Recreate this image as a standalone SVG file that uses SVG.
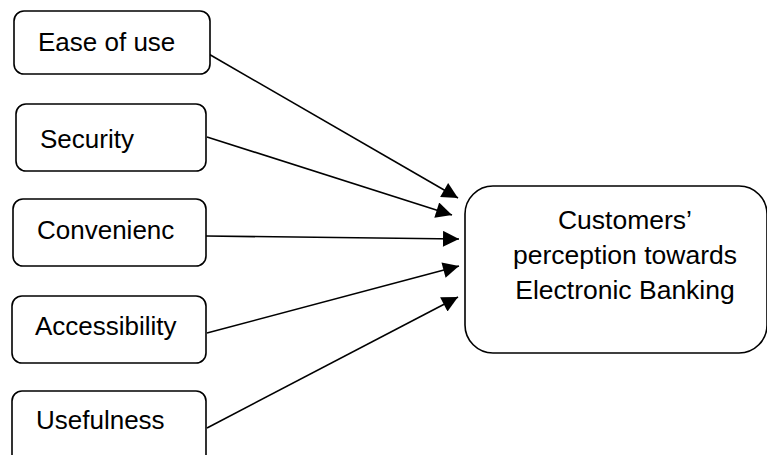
<svg xmlns="http://www.w3.org/2000/svg" width="767" height="455" viewBox="0 0 767 455">
<style>
.box{fill:#fff;stroke:#000;stroke-width:1.6}
.lbl{font-family:"Liberation Sans",Arial,sans-serif;font-size:26px;fill:#000}
.big{font-family:"Liberation Sans",Arial,sans-serif;font-size:26.5px;fill:#000;text-anchor:middle}
.conn{stroke:#000;stroke-width:1.6;fill:none;marker-end:url(#ah)}
</style>
<defs>
<marker id="ah" viewBox="0 0 10 10" refX="10" refY="5" markerWidth="10.5" markerHeight="10" markerUnits="strokeWidth" orient="auto">
<path d="M0,0 L10,5 L0,10 Z" fill="#000"/>
</marker>
</defs>
<rect width="767" height="455" fill="#fff"/>
<g id="connectors">
<line class="conn" x1="207" y1="53" x2="458" y2="198"/>
<line class="conn" x1="207" y1="137" x2="452" y2="215"/>
<line class="conn" x1="206" y1="236" x2="459" y2="239"/>
<line class="conn" x1="207" y1="333" x2="459" y2="266"/>
<line class="conn" x1="207" y1="428" x2="458" y2="297"/>
</g>
<g id="ease">
<rect class="box" x="14" y="11" width="196" height="63" rx="10"/>
<text class="lbl" x="38" y="51">Ease of use</text>
</g>
<g id="security">
<rect class="box" x="16" y="104" width="190" height="67" rx="10"/>
<text class="lbl" x="40" y="148">Security</text>
</g>
<g id="convenience">
<rect class="box" x="13" y="199" width="193" height="67" rx="10"/>
<text class="lbl" x="37" y="239">Convenienc</text>
</g>
<g id="accessibility">
<rect class="box" x="12" y="296" width="194" height="67" rx="10"/>
<text class="lbl" x="35" y="335">Accessibility</text>
</g>
<g id="usefulness">
<rect class="box" x="12" y="391" width="194" height="80" rx="10"/>
<text class="lbl" x="36" y="429">Usefulness</text>
</g>
<g id="perception">
<rect class="box" x="465" y="186" width="302" height="167" rx="28"/>
<text class="big" x="625" y="229">Customers’</text>
<text class="big" x="625" y="264">perception towards</text>
<text class="big" x="625" y="299">Electronic Banking</text>
</g>
</svg>
